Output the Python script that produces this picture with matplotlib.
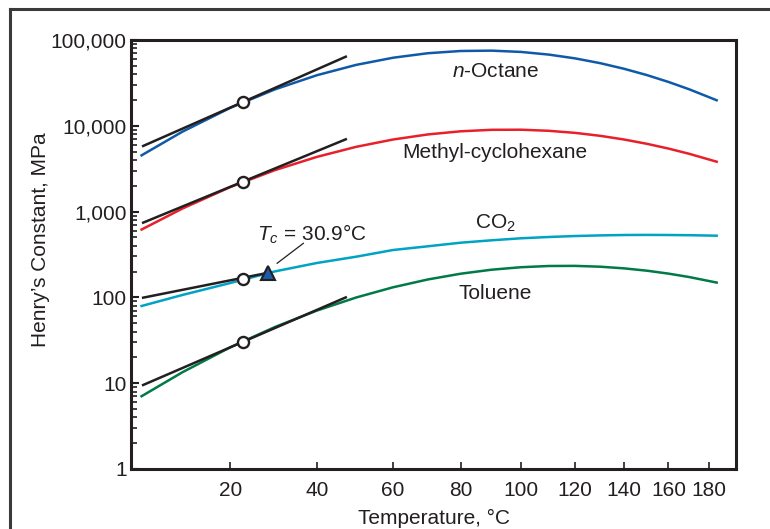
import numpy as np
import matplotlib
matplotlib.use('Agg')
import matplotlib.pyplot as plt
from matplotlib.lines import Line2D
from matplotlib.ticker import FixedLocator, FuncFormatter, LogLocator, NullFormatter

plt.rcParams['font.family'] = ['Liberation Sans', 'DejaVu Sans']
plt.rcParams['mathtext.fontset'] = 'custom'
plt.rcParams['mathtext.rm'] = 'Liberation Sans'
plt.rcParams['mathtext.it'] = 'Liberation Sans:italic'
plt.rcParams['mathtext.default'] = 'regular'

INK = '#231f20'

# temperaturas (°C)
temps = [2, 10, 20, 30, 40, 50, 60, 70, 80, 90, 100, 110, 120, 130, 140, 150, 160, 170, 184]

# constante de Henry (MPa)
octano = [4527, 8536, 16190, 26610, 38850, 51280, 62140, 70130, 74460, 75150,
          72610, 67610, 61060, 53700, 46180, 39030, 32440, 26640, 19850]
metilciclohexano = [618, 1085, 1932, 3045, 4341, 5687, 6922, 7930, 8627, 8980,
                    9005, 8745, 8270, 7641, 6922, 6171, 5427, 4717, 3815]
co2 = [79.4, 106.7, 147.2, 201, 251.8, 298.1, 356.8, 394.1, 434.0, 463.0,
       488.6, 505.8, 519.4, 527.9, 533.6, 535.0, 533.6, 530.8, 523.8]
tolueno = [7.05, 13.41, 26.22, 45.2, 70.2, 99.7, 131.2, 161.8, 188.8, 210.3,
           224.8, 232.3, 233.0, 227.9, 218.0, 204.8, 189.3, 172.7, 148.9]

# rectas tangentes (van't Hoff)
tan_T = [2.3, 47.3]
tan_octano = [5820, 63900]
tan_metil = [743, 6960]
tan_tolueno = [9.53, 100]
tan_T_co2 = [2.3, 28.5]
tan_co2 = [99.3, 194]

# puntos de referencia
T_ref = 22.8
ref_valores = [19100, 2232, 162.5, 30.5]
T_crit = 28.5
H_crit = 194

xticks = [20, 40, 60, 80, 100, 120, 140, 160, 180]
yticks = [1, 10, 100, 1000, 10000, 100000]


def fwd(t):
    return -1.0 / (np.asarray(t, dtype=float) + 273.15)


def inv(y):
    return -1.0 / np.asarray(y, dtype=float) - 273.15


fig = plt.figure(figsize=(7.7, 5.29), dpi=100)
ax = fig.add_axes([131 / 770, 1 - 469 / 529, 605 / 770, 429 / 529])
ax.set_xscale('function', functions=(fwd, inv))
ax.set_yscale('log')

ax.plot(temps, octano, color='#0f5aa8', lw=1.8, zorder=2)
ax.plot(temps, metilciclohexano, color='#e8202a', lw=1.8, zorder=2)
ax.plot(temps, co2, color='#00a3c4', lw=1.8, zorder=2)
ax.plot(temps, tolueno, color='#007a46', lw=1.8, zorder=2)

for vals in (tan_octano, tan_metil, tan_tolueno):
    ax.plot(tan_T, vals, color=INK, lw=1.8, zorder=3)
ax.plot(tan_T_co2, tan_co2, color=INK, lw=1.8, zorder=3)

ax.plot([T_ref] * 4, ref_valores, 'o', ms=8, mfc='white', mec=INK, mew=1.7, zorder=4)
ax.plot([T_crit], [H_crit], '^', ms=10, mfc='#1a5ca8', mec=INK, mew=1.5, zorder=4)

ax.plot([30.5, 36.7], [250, 427], color=INK, lw=0.9)
ax.text(26.0, 458, r'$\mathit{T}_{\mathit{c}}$ = 30.9°C', fontsize=15, color=INK,
        ha='left', va='baseline')

ax.text(91.2, 36700, r'$\mathit{n}$-Octane', fontsize=15, color=INK, ha='center', va='baseline')
ax.text(91.2, 4180, 'Methyl-cyclohexane', fontsize=15, color=INK, ha='center', va='baseline')
ax.text(91.2, 639, r'CO$_2$', fontsize=15, color=INK, ha='center', va='baseline')
ax.text(91.2, 95.8, 'Toluene', fontsize=15, color=INK, ha='center', va='baseline')

ax.set_xlim(0, 194.4)
ax.set_ylim(1, 100000)

ax.xaxis.set_major_locator(FixedLocator(xticks))
ax.xaxis.set_minor_locator(FixedLocator([]))
ax.xaxis.set_major_formatter(FuncFormatter(lambda v, p: f'{v:.0f}'))
ax.yaxis.set_major_locator(FixedLocator(yticks))
ax.yaxis.set_minor_locator(LogLocator(base=10, subs=np.arange(2, 10)))
ax.yaxis.set_major_formatter(FuncFormatter(lambda v, p: f'{v:,.0f}'))
ax.yaxis.set_minor_formatter(NullFormatter())

ax.tick_params(axis='x', which='major', direction='in', length=5, width=1.2,
               pad=9, labelsize=15, colors=INK, top=False)
ax.tick_params(axis='y', which='major', direction='in', length=6, width=1.5,
               pad=3, labelsize=15, colors=INK, right=False)
ax.tick_params(axis='y', which='minor', direction='in', length=4, width=1.2,
               colors=INK, right=False)

for s in ax.spines.values():
    s.set_linewidth(2.2)
    s.set_color(INK)

ax.set_xlabel('Temperature, °C', fontsize=15, color=INK, labelpad=6)
ax.set_ylabel('Henry\u2019s Constant, MPa', fontsize=15, color=INK)
ax.yaxis.set_label_coords(-0.134, 0.534)

# marco exterior de la figura
fig.add_artist(Line2D([9.5 / 770, 9.5 / 770], [0, 1 - 8.5 / 529], color='#3a3a3a', lw=2.2))
fig.add_artist(Line2D([9.5 / 770, 1], [1 - 8.5 / 529, 1 - 8.5 / 529], color='#3a3a3a', lw=2.2))

fig.savefig('out.png', dpi=100)
